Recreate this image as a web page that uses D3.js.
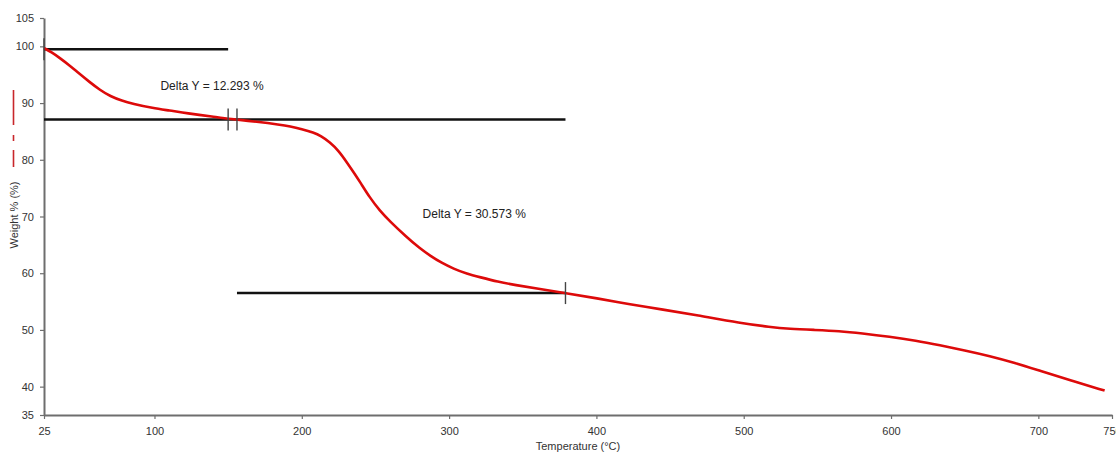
<!DOCTYPE html>
<html>
<head>
<meta charset="utf-8">
<script src="https://cdn.jsdelivr.net/npm/d3@7"></script>
<style>
  body { margin: 0; background: #fff; }
  text { font-family: "Liberation Sans", Arial, sans-serif; }
</style>
</head>
<body>
<div class="canvas"></div>
<script>
// TGA curve
const temps = [25, 30, 36, 42, 47, 56, 63, 70, 78, 85, 99, 110, 122, 140, 151, 170, 185, 192, 200, 208,
  213, 219, 225, 231, 236, 240, 246, 253, 260, 271, 280, 287, 295, 303, 312, 321, 333, 345, 360, 379,
  400, 423, 445, 468, 498, 518, 531, 548, 565, 580, 599, 617, 633, 650, 667, 684, 701, 722, 745];
const weights = [99.7, 99.0, 97.9, 96.7, 95.6, 93.7, 92.3, 91.2, 90.4, 89.9, 89.1, 88.7, 88.2, 87.6, 87.2, 86.7, 86.2, 85.9, 85.4, 84.8,
  84.2, 83.1, 81.6, 79.4, 77.5, 75.9, 73.4, 71.0, 69.1, 66.4, 64.4, 63.1, 61.8, 60.8, 59.9, 59.3, 58.5, 57.9, 57.3, 56.5,
  55.6, 54.5, 53.6, 52.6, 51.2, 50.5, 50.2, 50.0, 49.8, 49.4, 48.8, 48.1, 47.3, 46.4, 45.4, 44.2, 42.8, 41.1, 39.3];

const xTicks = [25, 100, 200, 300, 400, 500, 600, 700, 750];
const yTicks = [35, 40, 50, 60, 70, 80, 90, 100, 105];

// step analysis lines: level, from, to
const stepLevels = [99.5, 87.1, 56.5];
const stepFrom = [25, 25, 156];
const stepTo = [150, 379, 379];
// vertical cursor marks
const markT = [25, 150, 156, 379];
const markW = [99.5, 87.1, 87.1, 56.5];
// delta labels
const deltaText = ['Delta Y = 12.293 %', 'Delta Y = 30.573 %'];
const deltaT = [104, 282];
const deltaW = [92.3, 69.7];

const width = 1116, height = 452;

const svg = d3.select('.canvas')
    .append('svg')
    .attr('width', width)
    .attr('height', height);

const x = d3.scaleLinear().domain([25, 750]).range([44, 1112]);
const y = d3.scaleLinear().domain([35, 105]).range([415, 18]);

// axes
const xAxis = d3.axisBottom(x).tickValues(xTicks).tickSize(4).tickSizeOuter(0).tickPadding(8);
const yAxis = d3.axisLeft(y).tickValues(yTicks).tickSize(4).tickSizeOuter(0).tickPadding(6);

const gx = svg.append('g').attr('transform', `translate(0, ${y(35)})`).call(xAxis);
const gy = svg.append('g').attr('transform', `translate(${x(25)}, 0)`).call(yAxis);

[gx, gy].forEach(g => {
    g.select('.domain').attr('stroke', '#6e6e6e').attr('stroke-width', 2);
    g.selectAll('.tick line').attr('stroke', '#6e6e6e').attr('stroke-width', 1.2);
    g.selectAll('.tick text').attr('fill', '#333').attr('font-size', 11)
        .style('font-family', '"Liberation Sans", Arial, sans-serif');
});

// axis titles
svg.append('text')
    .attr('x', 578)
    .attr('y', 450)
    .attr('text-anchor', 'middle')
    .attr('font-size', 11)
    .attr('fill', '#333')
    .text('Temperature (°C)');

svg.append('text')
    .attr('transform', 'translate(18, 215) rotate(-90)')
    .attr('text-anchor', 'middle')
    .attr('font-size', 11)
    .attr('fill', '#333')
    .text('Weight % (%)');

// little red legend stub beside the y title
svg.append('line')
    .attr('x1', 13.5).attr('x2', 13.5)
    .attr('y1', 90).attr('y2', 167)
    .attr('stroke', '#c8262b')
    .attr('stroke-width', 1.6)
    .attr('stroke-dasharray', '35 10 6 9 17');

// step lines
const steps = stepLevels.map((v, i) => ({ v, a: stepFrom[i], b: stepTo[i] }));
svg.selectAll('.step')
    .data(steps)
    .enter()
    .append('line')
    .attr('class', 'step')
    .attr('x1', d => x(d.a))
    .attr('x2', d => x(d.b))
    .attr('y1', d => y(d.v))
    .attr('y2', d => y(d.v))
    .attr('stroke', '#111')
    .attr('stroke-width', 2.4);

// curve
const pts = temps.map((t, i) => [t, weights[i]]);
const line = d3.line()
    .x(d => x(d[0]))
    .y(d => y(d[1]))
    .curve(d3.curveBasis);

svg.append('path')
    .datum(pts)
    .attr('d', line)
    .attr('fill', 'none')
    .attr('stroke', '#dd0a0a')
    .attr('stroke-width', 2.6);

// cursor marks
svg.selectAll('.mark')
    .data(markT.map((t, i) => [t, markW[i]]))
    .enter()
    .append('line')
    .attr('class', 'mark')
    .attr('x1', d => x(d[0]))
    .attr('x2', d => x(d[0]))
    .attr('y1', d => y(d[1]) - 11)
    .attr('y2', d => y(d[1]) + 11)
    .attr('stroke', '#444')
    .attr('stroke-width', 1.4);

// delta labels
svg.selectAll('.delta')
    .data(deltaText)
    .enter()
    .append('text')
    .attr('class', 'delta')
    .attr('x', (d, i) => x(deltaT[i]))
    .attr('y', (d, i) => y(deltaW[i]))
    .attr('font-size', 12)
    .attr('fill', '#222')
    .text(d => d);
</script>
</body>
</html>
